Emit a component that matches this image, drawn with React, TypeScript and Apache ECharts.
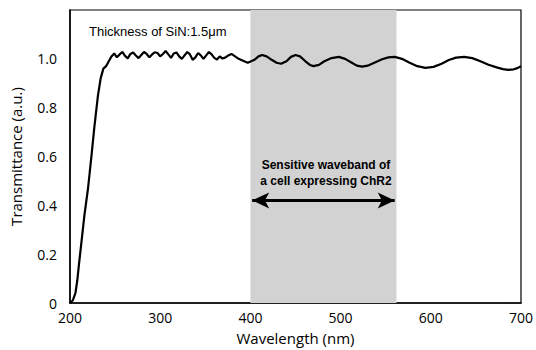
import React, { useEffect, useRef } from "react";
import * as echarts from "echarts";

const wavelengths: number[] = [
  200, 203, 206, 208, 210, 213, 216, 220, 224, 227, 231, 234, 237, 240, 243, 246,
  249, 252, 255, 258, 261, 264, 267, 270, 273, 276, 279, 282, 285, 288, 291, 294,
  297, 300, 303, 306, 309, 312, 315, 318, 321, 324, 327, 330, 333, 336, 339, 342,
  345, 348, 351, 354, 357, 360, 363, 366, 369, 372, 376, 379, 383, 387, 390, 397,
  404, 409, 413, 418, 424, 429, 434, 440, 445, 450, 455, 461, 466, 470, 476, 482,
  490, 498, 505, 512, 518, 524, 530, 538, 546, 553, 560, 568, 576, 585, 594, 603,
  612, 620, 628, 637, 646, 655, 664, 673, 680, 686, 692, 696, 700,
];
const transmittance: number[] = [
  0, 0.01, 0.04, 0.09, 0.16, 0.26, 0.36, 0.47, 0.61, 0.72, 0.85, 0.92, 0.96, 0.97, 0.99, 1.01,
  1.022, 1.006, 1.018, 1.028, 1.012, 1.002, 1.02, 1.026, 1.014, 1.003, 1.016, 1.028, 1.02, 1.006, 1.018, 1.027,
  1.024, 1.01, 1.02, 1.032, 1.018, 1.004, 1.022, 1.026, 1.01, 1.0, 1.014, 1.028, 1.018, 0.996, 1.006, 1.024,
  1.014, 1.0, 1.014, 1.028, 1.018, 1.004, 0.997, 1.01, 1.001, 1.005, 1.015, 1.02, 1.01, 1.0, 0.995, 0.984,
  0.995, 1.01, 1.016, 1.01, 0.995, 0.984, 0.98, 0.99, 1.008, 1.016, 1.01, 0.99, 0.975, 0.97, 0.975, 0.99,
  1.003, 1.008, 1.0, 0.985, 0.972, 0.968, 0.972, 0.985, 0.998, 1.006, 1.008, 1.0, 0.985, 0.97, 0.963, 0.967,
  0.98, 0.995, 1.005, 1.008, 1.003, 0.99, 0.976, 0.965, 0.958, 0.955, 0.957, 0.962, 0.97,
];
const bandStart = 400;
const bandEnd = 562;
const arrowLevel = 0.42;
const arrowStart = 402;
const arrowEnd = 560;
const yTicks = [0, 0.2, 0.4, 0.6, 0.8, 1.0];

export default function App() {
  const ref = useRef<HTMLDivElement>(null);
  useEffect(() => {
    if (!ref.current) return;
    const chart = echarts.init(ref.current, null, { renderer: "svg" });
    const data = wavelengths.map((w, i) => [w, transmittance[i]]);
    chart.setOption({
      animation: false,
      backgroundColor: "#fff",
      grid: {
        left: 69,
        top: 10,
        right: 12,
        bottom: 47,
        show: true,
        borderColor: "#000",
        borderWidth: 1.2,
        backgroundColor: "transparent",
      },
      xAxis: {
        type: "value",
        min: 200,
        max: 700,
        interval: 100,
        name: "Wavelength (nm)",
        nameLocation: "middle",
        nameGap: 27,
        nameTextStyle: { fontFamily: "Open Sans", fontSize: 15, color: "#000" },
        axisLine: { show: true, lineStyle: { color: "#000", width: 1.5 } },
        axisTick: { show: false },
        splitLine: { show: false },
        axisLabel: { fontFamily: "Open Sans", fontSize: 14, color: "#000", margin: 7 },
      },
      yAxis: {
        type: "value",
        min: 0,
        max: 1.2,
        interval: 0.2,
        name: "Transmittance (a.u.)",
        nameLocation: "middle",
        nameGap: 47,
        nameTextStyle: { fontFamily: "Open Sans", fontSize: 15, color: "#000" },
        axisLine: { show: true, lineStyle: { color: "#000", width: 1.5 } },
        axisTick: { show: false },
        splitLine: { show: false },
        axisLabel: {
          fontFamily: "Open Sans",
          fontSize: 14,
          color: "#000",
          margin: 13,
          formatter: (v: number) => {
            const t = yTicks.find((y) => Math.abs(y - v) < 1e-6);
            if (t === undefined) return "";
            return t === 0 ? "0" : t.toFixed(1);
          },
        },
      },
      series: [
        {
          type: "line",
          data,
          showSymbol: false,
          symbol: "none",
          lineStyle: { color: "#000", width: 2.2 },
          z: 3,
          markArea: {
            silent: true,
            itemStyle: { color: "#d2d2d2" },
            data: [[{ xAxis: bandStart }, { xAxis: bandEnd }]],
          },
          markLine: {
            silent: true,
            symbol: ["arrow", "arrow"],
            symbolSize: [12, 17],
            label: { show: false },
            lineStyle: { color: "#000", width: 3, type: "solid" },
            data: [[{ coord: [arrowStart, arrowLevel] }, { coord: [arrowEnd, arrowLevel] }]],
          },
        },
      ],
      graphic: [
        {
          type: "text",
          left: 89,
          top: 25,
          z: 20,
          style: {
            text: "Thickness of SiN:1.5μm",
            fontFamily: "Liberation Sans",
            fontSize: 13,
            fill: "#000",
          },
        },
        {
          type: "text",
          x: 326,
          y: 157,
          z: 20,
          style: {
            text: "Sensitive waveband of\na cell expressing ChR2",
            fontFamily: "Liberation Sans",
            fontWeight: "bold",
            fontSize: 12,
            lineHeight: 16,
            align: "center",
            fill: "#000",
          },
        },
      ],
    });
    return () => chart.dispose();
  }, []);
  return (
    <div
      ref={ref}
      style={{ position: "fixed", left: 0, top: 0, width: 536, height: 350 }}
    />
  );
}
